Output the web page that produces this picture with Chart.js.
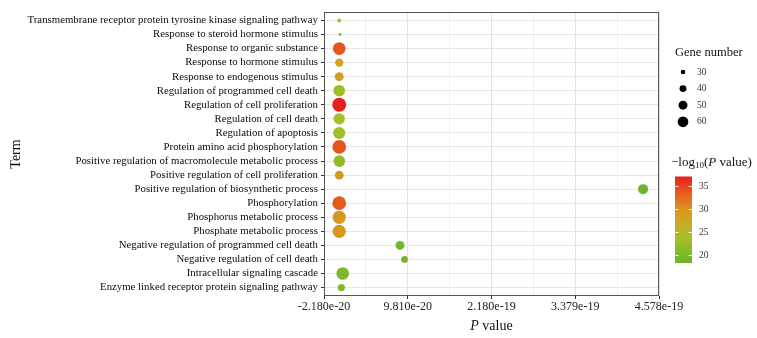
<!DOCTYPE html>
<html><head><meta charset="utf-8">
<script src="https://cdn.jsdelivr.net/npm/chart.js@4.4.1/dist/chart.umd.min.js"></script>
<style>html,body{margin:0;padding:0;background:#fff}canvas{display:block}</style>
</head><body>
<canvas id="c" width="757" height="338"></canvas>
<script>
const categories = [
  'Transmembrane receptor protein tyrosine kinase signaling pathway',
  'Response to steroid hormone stimulus',
  'Response to organic substance',
  'Response to hormone stimulus',
  'Response to endogenous stimulus',
  'Regulation of programmed cell death',
  'Regulation of cell proliferation',
  'Regulation of cell death',
  'Regulation of apoptosis',
  'Protein amino acid phosphorylation',
  'Positive regulation of macromolecule metabolic process',
  'Positive regulation of cell proliferation',
  'Positive regulation of biosynthetic process',
  'Phosphorylation',
  'Phosphorus metabolic process',
  'Phosphate metabolic process',
  'Negative regulation of programmed cell death',
  'Negative regulation of cell death',
  'Intracellular signaling cascade',
  'Enzyme linked receptor protein signaling pathway'
];
const pValue = [1e-24, 1e-21, 1e-34, 1e-28, 3e-29, 1e-23, 8e-38, 1e-24, 3e-24, 1e-34,
                1e-22, 1e-29, 4.35e-19, 3e-34, 3e-30, 3e-30, 8.7e-20, 9.35e-20, 5e-21, 3e-21];
const geneNumber = [27, 23, 72, 47, 50, 66, 81, 64, 68, 79, 66, 50, 56, 79, 76, 76, 50, 39, 72, 42];
const xTickValues = [-2.18e-20, 9.81e-20, 2.18e-19, 3.379e-19, 4.578e-19];
const xTickLabels = ['-2.180e-20', '9.810e-20', '2.180e-19', '3.379e-19', '4.578e-19'];
const sizeBreaks = [30, 40, 50, 60];
const colorBreaks = [20, 25, 30, 35];

const SERIF = '"Liberation Serif", "DejaVu Serif", serif';
const colorStops = [
  [18.3, [108, 180, 46]],
  [21, [134, 186, 44]],
  [24, [168, 190, 40]],
  [27, [200, 172, 34]],
  [30, [218, 148, 32]],
  [33, [230, 100, 28]],
  [37.1, [232, 32, 28]]
];
function colorFor(v) {
  if (v <= colorStops[0][0]) return 'rgb(' + colorStops[0][1].join(',') + ')';
  for (let i = 1; i < colorStops.length; i++) {
    if (v <= colorStops[i][0]) {
      const [v0, c0] = colorStops[i - 1], [v1, c1] = colorStops[i];
      const t = (v - v0) / (v1 - v0);
      return 'rgb(' + c0.map((c, k) => Math.round(c + (c1[k] - c) * t)).join(',') + ')';
    }
  }
  return 'rgb(' + colorStops[colorStops.length - 1][1].join(',') + ')';
}
function radiusFor(n) { return Math.max(1, (-9.78 + 2.644 * Math.sqrt(n)) / 2); }

const negLog = pValue.map(p => -Math.log10(p));
const cMin = Math.min(...negLog), cMax = Math.max(...negLog);

const decor = {
  id: 'decor',
  afterDraw(chart) {
    const { ctx, chartArea: a } = chart;
    ctx.save();
    ctx.strokeStyle = '#555';
    ctx.lineWidth = 1;
    const l = Math.round(a.left) + 0.5, t = Math.round(a.top) + 0.5;
    const r = Math.round(a.right) - 0.5, b = Math.round(a.bottom) - 0.5;
    ctx.strokeRect(l, t, r - l, b - t);

    ctx.textBaseline = 'middle';
    ctx.textAlign = 'left';
    ctx.fillStyle = '#111';
    const fI = 'italic 14px ' + SERIF, fN = '14px ' + SERIF;
    ctx.font = fI; const wP = ctx.measureText('P').width;
    ctx.font = fN; const wV = ctx.measureText(' value').width;
    let x = (a.left + a.right) / 2 - (wP + wV) / 2;
    ctx.font = fI; ctx.fillText('P', x, 326);
    ctx.font = fN; ctx.fillText(' value', x + wP, 326);

    ctx.font = '12.5px ' + SERIF;
    ctx.fillText('Gene number', 675, 53);
    sizeBreaks.forEach((n, i) => {
      const y = 72 + i * 16.6;
      ctx.beginPath();
      ctx.arc(683, y, radiusFor(n), 0, Math.PI * 2);
      ctx.fillStyle = '#000';
      ctx.fill();
      ctx.fillStyle = '#333';
      ctx.font = '9.5px ' + SERIF;
      ctx.fillText(String(n), 697, y);
    });

    ctx.fillStyle = '#111';
    let tx = 671; const ty = 162.5;
    const f13 = '13px ' + SERIF, f13i = 'italic 13px ' + SERIF, fsub = '9px ' + SERIF;
    ctx.font = f13; ctx.fillText('\u2212log', tx, ty); tx += ctx.measureText('\u2212log').width;
    ctx.font = fsub; ctx.fillText('10', tx, ty + 3.5); tx += ctx.measureText('10').width;
    ctx.font = f13; ctx.fillText('(', tx, ty); tx += ctx.measureText('(').width;
    ctx.font = f13i; ctx.fillText('P', tx, ty); tx += ctx.measureText('P').width;
    ctx.font = f13; ctx.fillText(' value)', tx, ty);

    const bx = 675, bw = 17, bTop = 176.5, bBot = 263;
    const grad = ctx.createLinearGradient(0, bBot, 0, bTop);
    for (let k = 0; k <= 30; k++) {
      const v = cMin + (cMax - cMin) * k / 30;
      grad.addColorStop(k / 30, colorFor(v));
    }
    ctx.fillStyle = grad;
    ctx.fillRect(bx, bTop, bw, bBot - bTop);
    ctx.strokeStyle = 'rgba(255,255,255,0.8)';
    ctx.lineWidth = 1;
    colorBreaks.forEach(v => {
      const y = Math.round(bBot - (v - cMin) / (cMax - cMin) * (bBot - bTop)) + 0.5;
      ctx.beginPath();
      ctx.moveTo(bx, y); ctx.lineTo(bx + 3.5, y);
      ctx.moveTo(bx + bw - 3.5, y); ctx.lineTo(bx + bw, y);
      ctx.stroke();
      ctx.fillStyle = '#333';
      ctx.font = '9.5px ' + SERIF;
      ctx.fillText(String(v), bx + bw + 7, y);
    });
    ctx.restore();
  }
};

new Chart(document.getElementById('c').getContext('2d'), {
  type: 'bubble',
  data: {
    datasets: [{
      data: categories.map((c, i) => ({ x: pValue[i], y: i, r: radiusFor(geneNumber[i]) })),
      backgroundColor: negLog.map(colorFor),
      borderWidth: 0,
      hoverBorderWidth: 0,
      hoverRadius: 0
    }]
  },
  options: {
    responsive: false,
    animation: false,
    devicePixelRatio: 1,
    events: [],
    layout: { padding: { top: 12, right: 98, left: 0, bottom: 0 } },
    plugins: { legend: { display: false }, tooltip: { enabled: false } },
    scales: {
      x: {
        type: 'linear',
        min: xTickValues[0],
        max: xTickValues[xTickValues.length - 1],
        afterBuildTicks(s) {
          const t = [];
          xTickValues.forEach((v, i) => {
            t.push({ value: v });
            if (i < xTickValues.length - 1) t.push({ value: (v + xTickValues[i + 1]) / 2 });
          });
          s.ticks = t;
        },
        afterFit(s) { s.height = 42; },
        ticks: {
          autoSkip: false, maxRotation: 0, minRotation: 0, padding: 1,
          color: '#222', font: { family: SERIF, size: 12 },
          callback(v) { const i = xTickValues.indexOf(v); return i >= 0 ? xTickLabels[i] : ''; }
        },
        grid: {
          color: c => (c.tick && xTickValues.includes(c.tick.value)) ? '#e2e2e2' : '#f0f0f0',
          tickColor: c => (c.tick && xTickValues.includes(c.tick.value)) ? '#333' : 'rgba(0,0,0,0)',
          tickLength: 3, lineWidth: 1
        },
        border: { display: false }
      },
      y: {
        type: 'linear',
        reverse: true,
        min: -0.6,
        max: categories.length - 0.4,
        afterBuildTicks(s) { s.ticks = categories.map((c, i) => ({ value: i })); },
        afterFit(s) { s.width = 324; },
        ticks: {
          autoSkip: false, padding: 3, color: '#0a0a0a',
          font: { family: SERIF, size: 10.8 },
          callback(v) { return categories[v]; }
        },
        grid: { color: '#e6e6e6', tickLength: 3, tickColor: '#333', lineWidth: 1 },
        border: { display: false },
        title: {
          display: true, text: 'Term', color: '#111',
          font: { family: SERIF, size: 14 }, padding: { top: 8, bottom: 0 }
        }
      }
    }
  },
  plugins: [decor]
});
</script>
</body></html>
